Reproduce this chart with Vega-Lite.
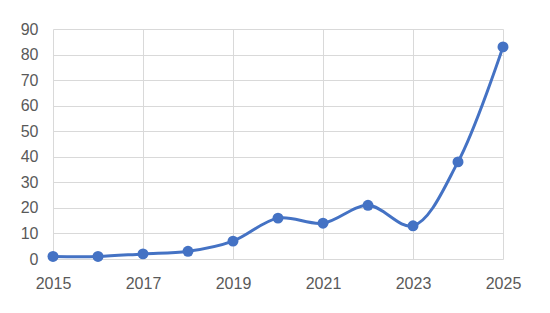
{
  "$schema": "https://vega.github.io/schema/vega-lite/v6.json",
  "width": 450,
  "height": 230,
  "autosize": {"type": "none"},
  "padding": {"left": 53, "top": 29, "right": 47, "bottom": 54},
  "background": "white",
  "config": {
    "view": {"stroke": null},
    "axis": {
      "labelFont": "Liberation Sans",
      "labelFontSize": 16,
      "labelColor": "#595959",
      "gridColor": "#D9D9D9",
      "gridWidth": 1,
      "domain": false,
      "ticks": false,
      "title": null
    }
  },
  "data": {
    "values": [
      {"year": 2015, "count": 1},
      {"year": 2016, "count": 1},
      {"year": 2017, "count": 2},
      {"year": 2018, "count": 3},
      {"year": 2019, "count": 7},
      {"year": 2020, "count": 16},
      {"year": 2021, "count": 14},
      {"year": 2022, "count": 21},
      {"year": 2023, "count": 13},
      {"year": 2024, "count": 38},
      {"year": 2025, "count": 83}
    ]
  },
  "encoding": {
    "x": {
      "field": "year",
      "type": "quantitative",
      "scale": {"domain": [2015, 2025], "nice": false, "zero": false},
      "axis": {
        "values": [2015, 2017, 2019, 2021, 2023, 2025],
        "format": "d",
        "labelPadding": 16,
        "labelFlush": false
      }
    },
    "y": {
      "field": "count",
      "type": "quantitative",
      "scale": {"domain": [0, 90], "nice": false},
      "axis": {
        "values": [0, 10, 20, 30, 40, 50, 60, 70, 80, 90],
        "labelPadding": 15
      }
    }
  },
  "layer": [
    {
      "mark": {"type": "line", "interpolate": "catmull-rom", "color": "#4472C4", "strokeWidth": 3}
    },
    {
      "mark": {"type": "point", "filled": true, "color": "#4472C4", "opacity": 1, "size": 120}
    }
  ]
}
